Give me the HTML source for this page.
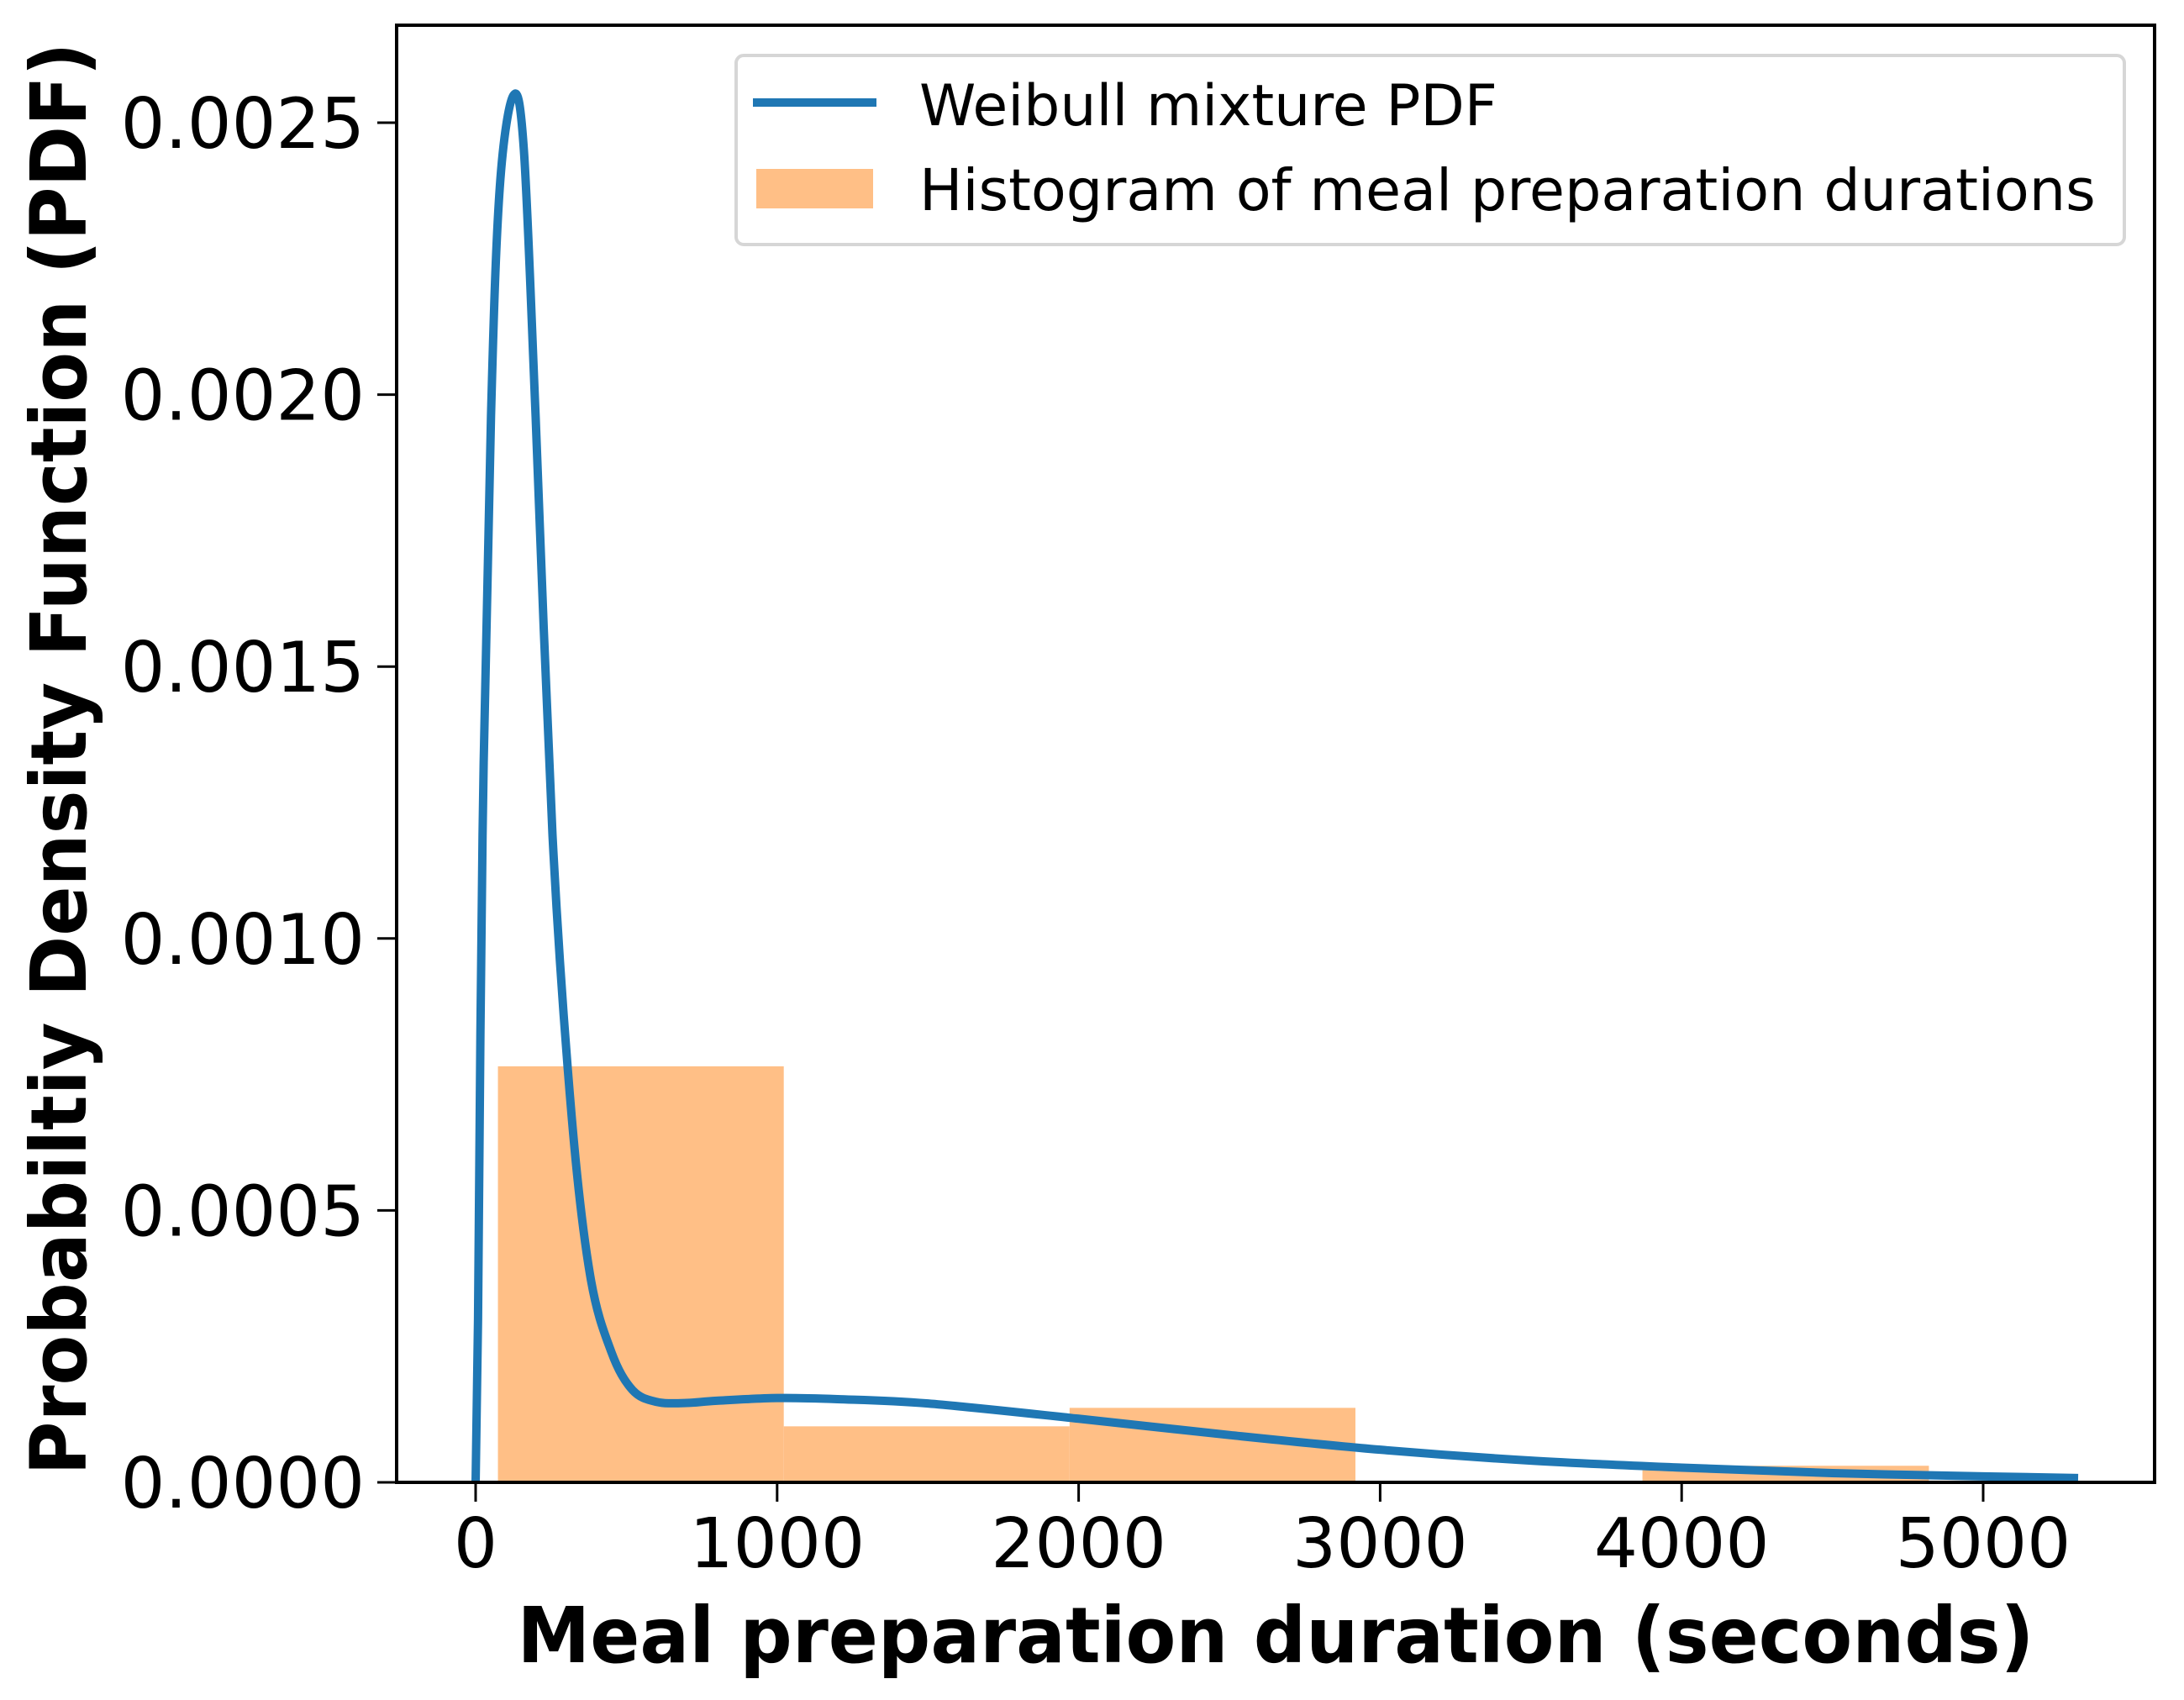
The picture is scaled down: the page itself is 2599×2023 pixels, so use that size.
<!DOCTYPE html>
<html><head><meta charset="utf-8"><style>
html,body{margin:0;padding:0;background:#fff;}
svg{display:block;font-family:"DejaVu Sans","Liberation Sans",sans-serif;}
</style></head><body>
<svg id="chart" width="2599" height="2023" viewBox="0 0 2599 2023" xmlns="http://www.w3.org/2000/svg">
<rect x="0" y="0" width="2599" height="2023" fill="#fff"/>
<g id="bars"></g>
<g id="curve"></g>
<g id="axes"></g>
</svg>
<script>
const binEdges = [74, 1022, 1970, 2918, 3870, 4820];
const binHeights = [0.000765, 0.000103, 0.000137, 0.0, 0.0000305];
const curveX = [0, 8, 23, 51, 80, 125, 160, 199, 255, 319, 380, 450, 520, 600, 700, 800, 1000, 1200, 1500, 2000, 2500, 3000, 3500, 4000, 4500, 5000, 5315];
const curveY = [0, 0.0003, 0.00119, 0.00196, 0.00238, 0.00255, 0.00245, 0.00196, 0.00119, 0.00067, 0.00038, 0.00024, 0.00017, 0.000148, 0.000146, 0.00015, 0.000155, 0.000153, 0.000145, 0.000117, 0.000087, 0.00006, 0.00004, 0.000027, 0.000017, 0.000011, 0.000008];
const xTicks = [0, 1000, 2000, 3000, 4000, 5000];
const xTickLabels = ["0", "1000", "2000", "3000", "4000", "5000"];
const yTicks = [0, 0.0005, 0.001, 0.0015, 0.002, 0.0025];
const yTickLabels = ["0.0000", "0.0005", "0.0010", "0.0015", "0.0020", "0.0025"];

const NS = "http://www.w3.org/2000/svg";
const L = 472, R = 2564, T = 30, B = 1764;
function xs(v){ return 566 + v * 0.3588; }
function ys(v){ return B - v * (323.6 / 0.0005); }
function mk(tag, attrs, parent){ const e = document.createElementNS(NS, tag); for (const k in attrs) e.setAttribute(k, attrs[k]); parent.appendChild(e); return e; }

const gb = document.getElementById('bars');
for (let i = 0; i < binHeights.length; i++) {
  const x0 = xs(binEdges[i]), x1 = xs(binEdges[i+1]), y = ys(binHeights[i]);
  const r = mk('rect', {x: x0, y: y, width: x1 - x0, height: B - y, fill: '#ffbf86'}, gb);
  
  
}

const gc = document.getElementById('curve');
const pts = curveX.map((x, i) => [xs(x), ys(curveY[i])]);
let d = 'M' + pts[0][0] + ',' + pts[0][1];
for (let i = 0; i < pts.length - 1; i++) {
  const p0 = pts[Math.max(0, i-1)], p1 = pts[i], p2 = pts[i+1], p3 = pts[Math.min(pts.length-1, i+2)];
  const c1 = [p1[0] + (p2[0]-p0[0])/6, p1[1] + (p2[1]-p0[1])/6];
  const c2 = [p2[0] - (p3[0]-p1[0])/6, p2[1] - (p3[1]-p1[1])/6];
  d += ' C' + c1[0] + ',' + c1[1] + ' ' + c2[0] + ',' + c2[1] + ' ' + p2[0] + ',' + p2[1];
}
const path = mk('path', {d: d, fill: 'none', stroke: '#1f77b4', 'stroke-width': 10, 'stroke-linejoin': 'round', 'stroke-linecap': 'butt'}, gc);



const ga = document.getElementById('axes');
const frame = mk('rect', {x: L, y: T, width: R - L, height: B - T, fill: 'none', stroke: '#000', 'stroke-width': 4}, ga);



xTicks.forEach((v, i) => {
  const x = xs(v);
  const t = mk('line', {x1: x, x2: x, y1: B, y2: B + 23, stroke: '#000', 'stroke-width': 3}, ga);
  
  
  const tx = mk('text', {x: x, y: B + 101, 'font-size': 82, 'text-anchor': 'middle', fill: '#000'}, ga);
  tx.textContent = xTickLabels[i];
  
  
});
yTicks.forEach((v, i) => {
  const y = ys(v);
  const t = mk('line', {x1: L - 23, x2: L, y1: y, y2: y, stroke: '#000', 'stroke-width': 3}, ga);
  
  
  const tx = mk('text', {x: L - 38, y: y + 30, 'font-size': 83, 'text-anchor': 'end', fill: '#000'}, ga);
  tx.textContent = yTickLabels[i];
  
  
});

const xl = mk('text', {x: (L+R)/2, y: 1978, 'font-size': 92, 'font-weight': 'bold', 'text-anchor': 'middle', textLength: 1805, lengthAdjust: 'spacingAndGlyphs'}, ga);
xl.textContent = 'Meal preparation duration (seconds)';


const yl = mk('text', {x: 0, y: 0, 'font-size': 92, 'font-weight': 'bold', 'text-anchor': 'middle', textLength: 1705, lengthAdjust: 'spacingAndGlyphs', transform: 'translate(102,903) rotate(-90)'}, ga);
yl.textContent = 'Probabiltiy Density Function (PDF)';



const lg = mk('g', {}, ga);


mk('rect', {x: 876, y: 66, width: 1652, height: 225, rx: 9, fill: '#fff', 'fill-opacity': 0.8, stroke: '#d6d6d6', 'stroke-width': 4}, lg);
const ll = mk('line', {x1: 896, x2: 1043, y1: 122, y2: 122, stroke: '#1f77b4', 'stroke-width': 10}, lg);


const lt1 = mk('text', {x: 1094, y: 149, 'font-size': 66}, lg);
lt1.textContent = 'Weibull mixture PDF';


const lp = mk('rect', {x: 900, y: 201, width: 139, height: 47, fill: '#ffbf86'}, lg);


const lt2 = mk('text', {x: 1094, y: 250, 'font-size': 66}, lg);
lt2.textContent = 'Histogram of meal preparation durations';


// fit legend text widths to reference
[[lt1, 688], [lt2, 1400]].forEach(([el, w]) => {
  const cur = el.getComputedTextLength();
  if (cur > 0) el.setAttribute('font-size', (66 * w / cur).toFixed(2));
});
</script>
</body></html>
